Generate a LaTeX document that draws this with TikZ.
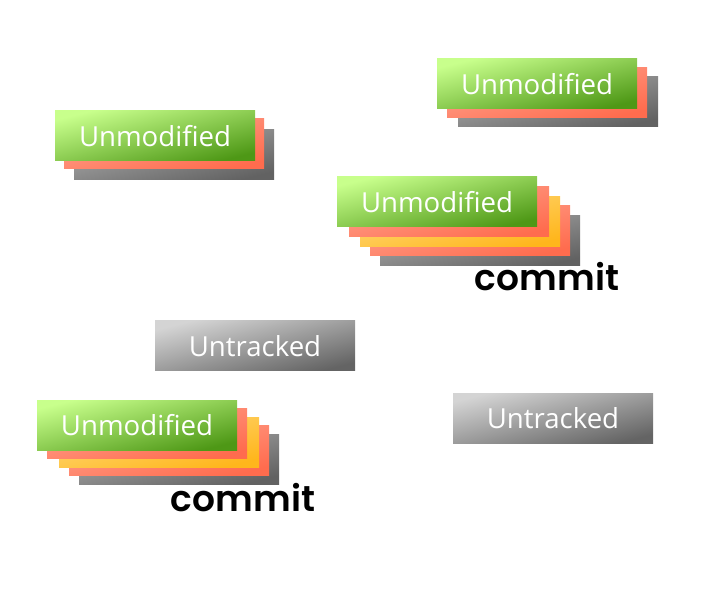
\documentclass[tikz,border=0pt]{standalone}
\usepackage{fontspec}
\setmainfont{Open Sans}
\newfontfamily\commitfont{Poppins}[BoldFont={* SemiBold}]
\usepackage{xcolor}
\usetikzlibrary{arrows.meta}

\definecolor{greenhi}{RGB}{200,255,140}
\definecolor{greenlo}{RGB}{78,152,22}
\definecolor{salmonhi}{RGB}{255,165,145}
\definecolor{salmonlo}{RGB}{255,108,78}
\definecolor{goldhi}{RGB}{255,218,125}
\definecolor{goldlo}{RGB}{255,182,28}
\definecolor{shadowhi}{RGB}{175,175,175}
\definecolor{shadowlo}{RGB}{98,98,98}
\definecolor{untrackedhi}{RGB}{212,212,212}
\definecolor{untrackedlo}{RGB}{100,100,100}

\begin{document}
\begin{tikzpicture}[x=1pt,y=-1pt,
  card/.style={minimum width=200pt,minimum height=50pt,inner sep=0pt,text=white,font=\fontsize{27.6}{30}\selectfont},
  greencard/.style={card,top color=greenhi,bottom color=greenlo,shading angle=14},
  salmoncard/.style={card,top color=salmonhi,bottom color=salmonlo,shading angle=14},
  goldcard/.style={card,top color=goldhi,bottom color=goldlo,shading angle=14},
  shadowcard/.style={card,top color=shadowhi,bottom color=shadowlo,shading angle=14},
  untrackedcard/.style={card,top color=untrackedhi,bottom color=untrackedlo,shading angle=14},
  commitlabel/.style={anchor=base,inner sep=0pt,font=\commitfont\bfseries\fontsize{36}{38}\selectfont}]
  \useasboundingbox (0,0) rectangle (720,593);
  % stack 1
  \node[shadowcard] (s1c) at (174,155) {};
  \node[salmoncard] (s1b) at (164,144) {};
  \node[greencard] (s1a) at (155,136) {Unmodified};
  % stack 2
  \node[shadowcard] (s2c) at (558,102) {};
  \node[salmoncard] (s2b) at (547,93) {};
  \node[greencard] (s2a) at (537,84) {Unmodified};
  % stack 3
  \node[shadowcard] (s3e) at (480,241) {};
  \node[salmoncard] (s3d) at (470,231) {};
  \node[goldcard] (s3c) at (460,222) {};
  \node[salmoncard] (s3b) at (449,212) {};
  \node[greencard] (s3a) at (437,202) {Unmodified};
  \node[commitlabel] (c3) at (547,291) {commit};
  % stack 4
  \node[shadowcard] (s4e) at (179,459) {};
  \node[salmoncard] (s4d) at (169,450) {};
  \node[goldcard] (s4c) at (159,442) {};
  \node[salmoncard] (s4b) at (147,433) {};
  \node[greencard] (s4a) at (137,425) {Unmodified};
  \node[commitlabel] (c4) at (243,511) {commit};
  % untracked
  \node[untrackedcard] (u1) at (255,346) {Untracked};
  \node[untrackedcard] (u2) at (553,418) {Untracked};
\end{tikzpicture}
\end{document}
